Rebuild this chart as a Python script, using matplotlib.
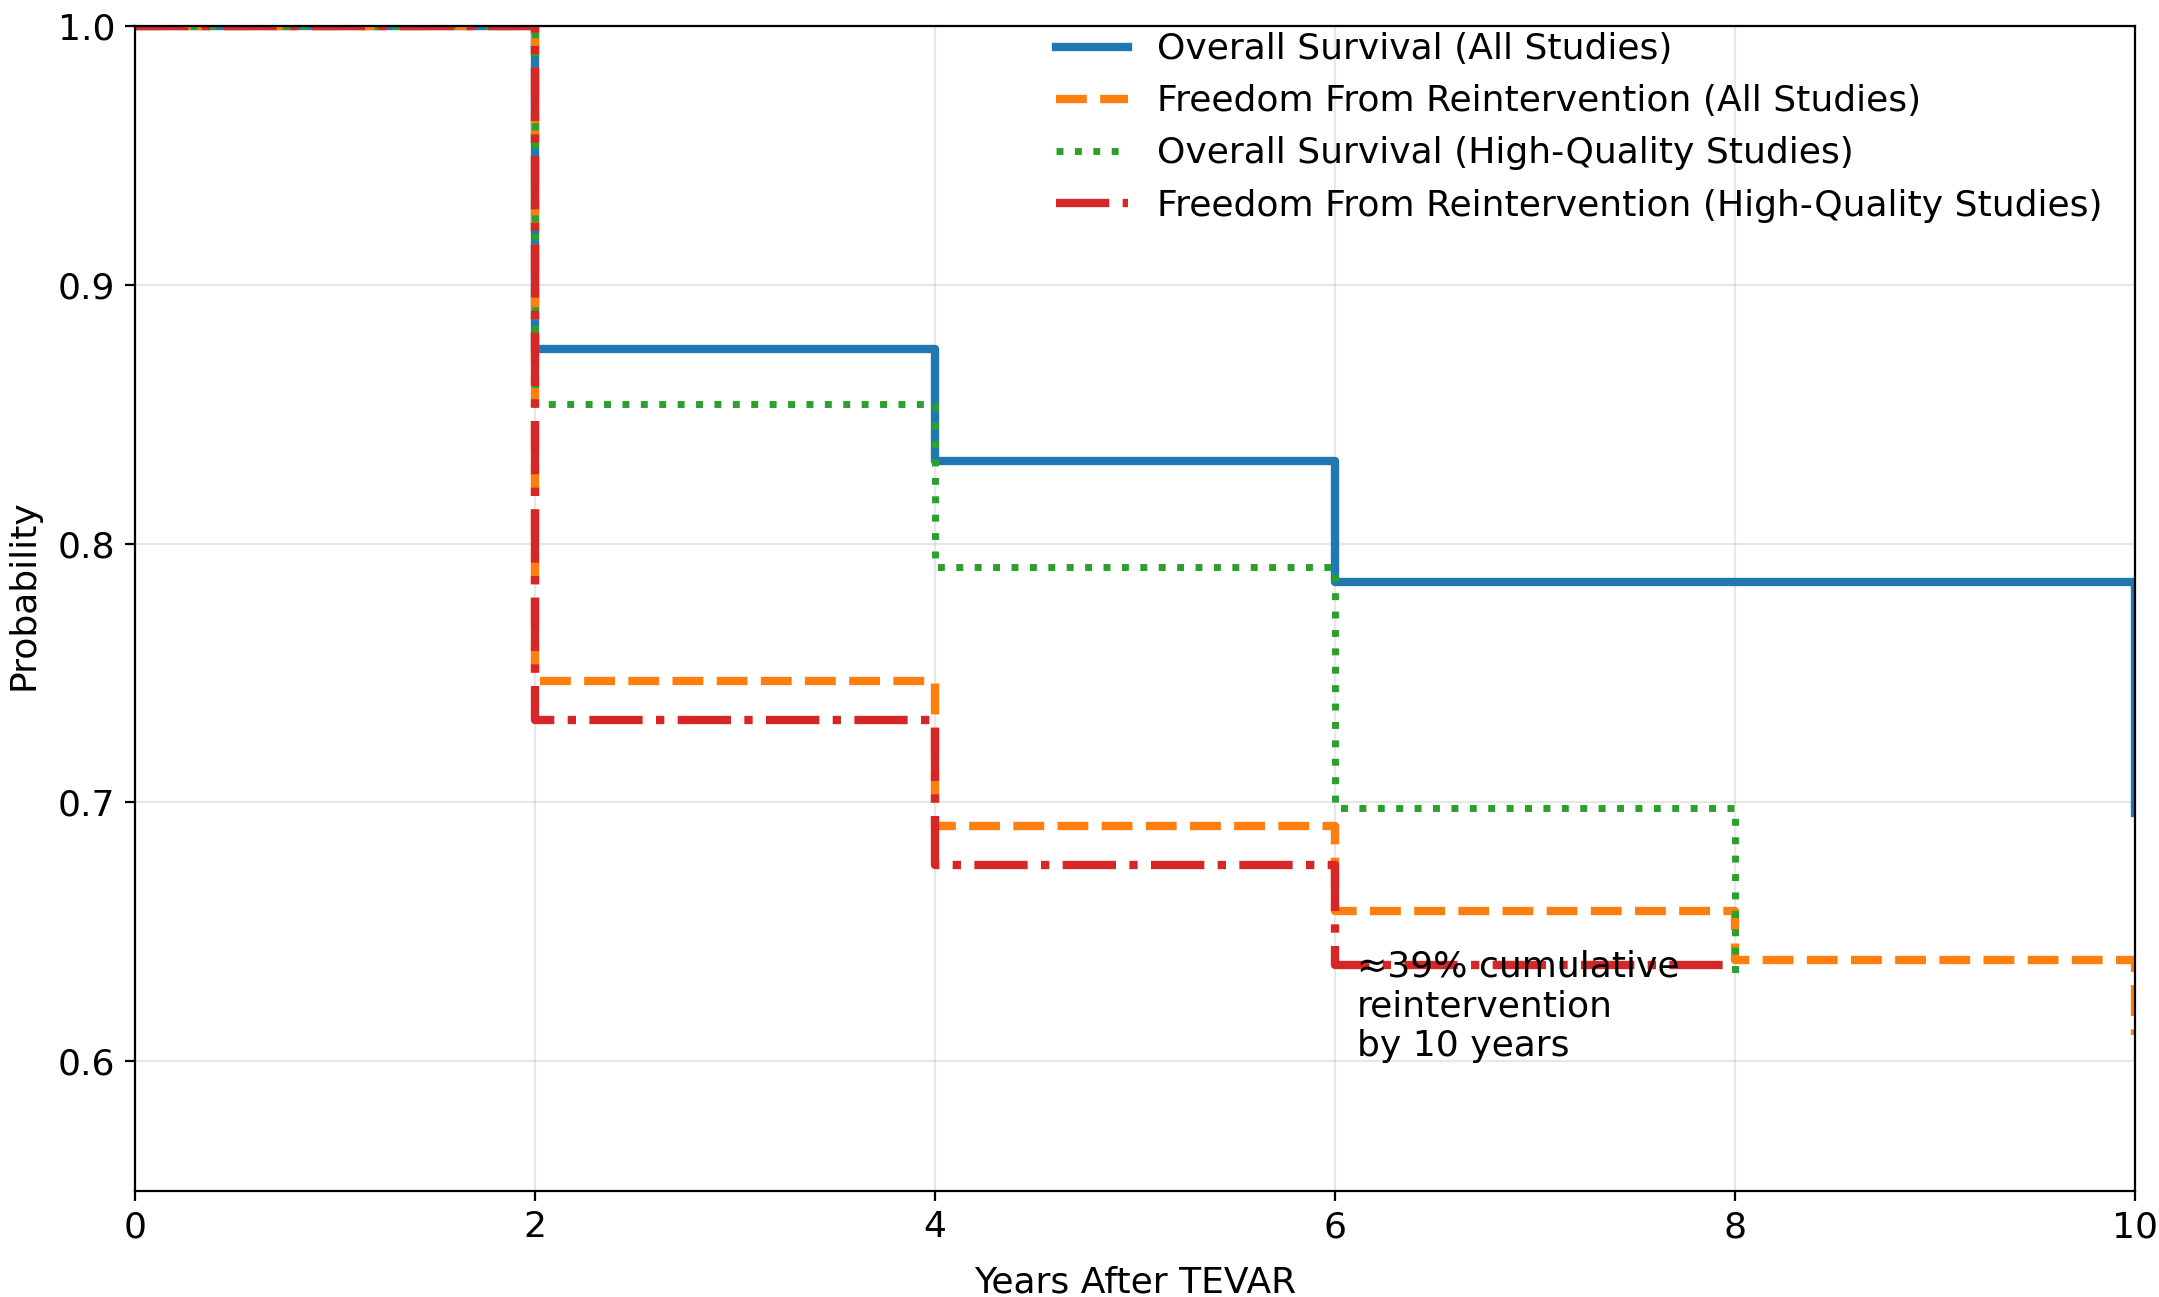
import matplotlib
matplotlib.use("Agg")
import matplotlib.pyplot as plt
import numpy as np

plt.rcParams['font.size'] = 13

# years after TEVAR
years_all = [0, 2, 4, 6, 8, 10]
years_hq = [0, 2, 4, 6, 8]

os_all = [1.0, 0.875, 0.832, 0.785, 0.785, 0.696]
ffr_all = [1.0, 0.747, 0.691, 0.658, 0.639, 0.610]
os_hq = [1.0, 0.854, 0.791, 0.698, 0.633]
ffr_hq = [1.0, 0.732, 0.676, 0.637, 0.637]

fig, ax = plt.subplots(figsize=(10.795, 6.485), dpi=200)

ax.plot(years_all, os_all, drawstyle='steps-post', lw=3, color='#1f77b4',
        label='Overall Survival (All Studies)')
ax.plot(years_all, ffr_all, drawstyle='steps-post', lw=3, ls='--', color='#ff7f0e',
        label='Freedom From Reintervention (All Studies)')
ax.plot(years_hq, os_hq, drawstyle='steps-post', lw=2.5, ls=':', color='#2ca02c',
        label='Overall Survival (High-Quality Studies)')
ax.plot(years_hq, ffr_hq, drawstyle='steps-post', lw=3, ls='-.', color='#d62728',
        label='Freedom From Reintervention (High-Quality Studies)')

ax.text(6.11, 0.643, '≈39% cumulative\nreintervention\nby 10 years', va='top', ha='left')

ax.set_xlim(0, 10)
ax.set_ylim(0.55, 1.0)
ax.set_xticks([0, 2, 4, 6, 8, 10])
ax.set_yticks([0.6, 0.7, 0.8, 0.9, 1.0])
ax.grid(True, alpha=0.3)
ax.set_xlabel('Years After TEVAR')
ax.set_ylabel('Probability')
ax.xaxis.set_label_coords(0.5, -0.064)
ax.yaxis.set_label_coords(-0.047, 0.512)
ax.legend(loc='upper right', frameon=False, bbox_to_anchor=(1.0, 1.0224))

plt.subplots_adjust(left=0.0625, right=0.989, top=0.98, bottom=0.082)
plt.savefig('out.png')
